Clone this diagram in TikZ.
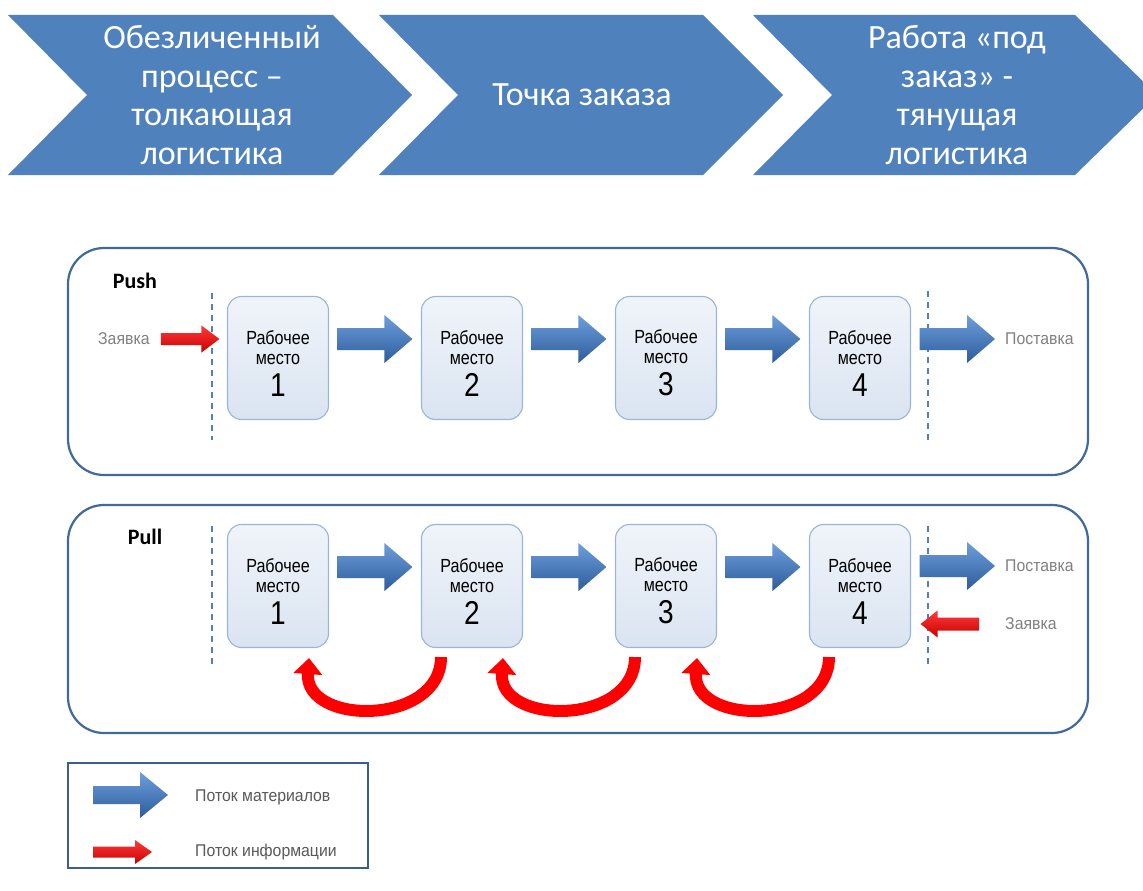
\documentclass[tikz,border=0pt]{standalone}
\usepackage{fontspec}
\setmainfont{Carlito}
\newfontfamily\arialn[FakeStretch=0.85]{Liberation Sans}
\newfontfamily\arialm[FakeStretch=0.93]{Liberation Sans}
\usetikzlibrary{calc,arrows.meta}
\definecolor{chev}{HTML}{4F81BD}
\definecolor{panelc}{HTML}{41699B}
\definecolor{boxedge}{HTML}{9BB5D8}
\definecolor{boxtop}{HTML}{F0F4FA}
\definecolor{boxbot}{HTML}{DAE4F1}
\definecolor{mattop}{HTML}{6E9EDC}
\definecolor{matbot}{HTML}{2E5C9A}
\definecolor{inftop}{HTML}{FF3A3A}
\definecolor{infbot}{HTML}{C80000}
\definecolor{sidegray}{HTML}{808080}
\definecolor{leggray}{HTML}{595959}
\definecolor{legedge}{HTML}{3B5E8C}
\newcommand\blockarrow[6]{%
  \path[#1] let \p1=#2, \p2=#3, \n1={sign(\x2-\x1)} in
    (\x1,\y2+#4) -- (\x2-\n1*#6,\y2+#4) -- (\x2-\n1*#6,\y2+#5) -- (\x2,\y2)
    -- (\x2-\n1*#6,\y2-#5) -- (\x2-\n1*#6,\y2-#4) -- (\x1,\y2-#4) -- cycle;}
\tikzset{
  chevshape/.style={fill=chev, draw=none},
  chevtext/.style={text=white, font=\fontsize{34}{38.5}\selectfont, align=center, inner sep=0pt},
  panel/.style={draw=panelc, line width=2.2pt, rounded corners=36pt, fill=white},
  sepline/.style={draw=chev, line width=1.6pt, dash pattern=on 6pt off 5pt},
  wbox/.style={draw=boxedge, line width=1.1pt, rounded corners=14pt, top color=boxtop,
    bottom color=boxbot, minimum width=101pt, minimum height=123pt, text width=95pt,
    align=center, inner sep=0pt, text=black, font=\arialn\fontsize{19}{20}\selectfont},
  mat/.style={top color=mattop, bottom color=matbot, draw=none},
  info/.style={top color=inftop, bottom color=infbot, draw=none},
  side/.style={text=sidegray, font=\arialm\fontsize{17}{20}\selectfont, inner sep=0pt, anchor=west},
  legtext/.style={text=leggray, font=\arialm\fontsize{17}{20}\selectfont, inner sep=0pt, anchor=west},
  paneltitle/.style={font=\bfseries\fontsize{22}{24}\selectfont, inner sep=0pt},
  infoarc/.style={draw=red, line width=12pt, -{Triangle[width=28pt,length=16pt]}},
}
\newcommand\wtext[1]{\rule{0pt}{24pt}Рабочее\par место\par{\fontsize{33}{32}\selectfont #1\par}}
\begin{document}
\begin{tikzpicture}[x=1pt,y=-1pt]
\clip (0,0) rectangle (1143,891);
\fill[white] (0,0) rectangle (1143,891);
% chevrons
\path[chevshape] (8,15) -- (333,15) -- (412,95) -- (333,175) -- (8,175) -- (87,95) -- cycle;
\path[chevshape] (379,15) -- (703,15) -- (783,95) -- (703,175) -- (379,175) -- (458,95) -- cycle;
\path[chevshape] (753,15) -- (1075,15) -- (1157,95) -- (1075,175) -- (753,175) -- (832,95) -- cycle;
\node[chevtext] (c1) at (212,95) {Обезличенный\\процесс –\\толкающая\\логистика};
\node[chevtext] (c2) at (582,95) {Точка заказа};
\node[chevtext] (c3) at (957,95) {Работа «под\\заказ» -\\тянущая\\логистика};
% panels
\draw[panel] (68,248) rectangle (1088,475);
\draw[panel] (68,505) rectangle (1088,733);
\node[paneltitle] (push) at (135,281) {Push};
\node[paneltitle] (pull) at (145,537) {Pull};
% separators
\draw[sepline] (212,293) -- (212,440);
\draw[sepline] (928,291) -- (928,440);
\draw[sepline] (212,526) -- (212,667);
\draw[sepline] (928,526) -- (928,667);
% push row
\node[wbox] (a1) at (278,358) {\wtext{1}};
\node[wbox] (a2) at (472,358) {\wtext{2}};
\node[wbox] (a3) at (666,358) {\wtext{3}};
\node[wbox] (a4) at (860,358) {\wtext{4}};
\node[side] (zin) at (98,339) {Заявка};
\node[side] (pout) at (1005,339) {Поставка};
\blockarrow{info}{($(zin.east)+(11,0)$)}{($(a1.west)+(-7.5,-19)$)}{6pt}{13.5pt}{18pt}
\blockarrow{mat}{($(a1.east)+(8.5,-19)$)}{($(a2.west)+(-8.5,-19)$)}{11pt}{24pt}{28pt}
\blockarrow{mat}{($(a2.east)+(8.5,-19)$)}{($(a3.west)+(-8.5,-19)$)}{11pt}{24pt}{28pt}
\blockarrow{mat}{($(a3.east)+(8.5,-19)$)}{($(a4.west)+(-8.5,-19)$)}{11pt}{24pt}{28pt}
\blockarrow{mat}{($(a4.east)+(8.5,-19)$)}{($(pout.west)+(-10,0)$)}{11pt}{24pt}{28pt}
% pull row
\node[wbox] (b1) at (278,586) {\wtext{1}};
\node[wbox] (b2) at (472,586) {\wtext{2}};
\node[wbox] (b3) at (666,586) {\wtext{3}};
\node[wbox] (b4) at (860,586) {\wtext{4}};
\node[side] (pout2) at (1005,566) {Поставка};
\node[side] (zin2) at (1005,624) {Заявка};
\blockarrow{mat}{($(b1.east)+(8.5,-19)$)}{($(b2.west)+(-8.5,-19)$)}{11pt}{24pt}{28pt}
\blockarrow{mat}{($(b2.east)+(8.5,-19)$)}{($(b3.west)+(-8.5,-19)$)}{11pt}{24pt}{28pt}
\blockarrow{mat}{($(b3.east)+(8.5,-19)$)}{($(b4.west)+(-8.5,-19)$)}{11pt}{24pt}{28pt}
\blockarrow{mat}{($(b4.east)+(8.5,-19)$)}{($(pout2.west)+(-10,0)$)}{11pt}{24pt}{28pt}
\blockarrow{info}{($(zin2.west)+(-26,0)$)}{($(b4.east)+(9.5,38)$)}{6.5pt}{13.5pt}{17pt}
% curved information arrows
\draw[infoarc] ($(b2.south)+(-31,9)$) .. controls +(0,69) and +(-5,68) .. ($(b1.south)+(31,10)$);
\draw[infoarc] ($(b3.south)+(-31,9)$) .. controls +(0,69) and +(-5,68) .. ($(b2.south)+(31,10)$);
\draw[infoarc] ($(b4.south)+(-31,9)$) .. controls +(0,69) and +(-5,68) .. ($(b3.south)+(31,10)$);
% legend
\draw[legedge, line width=2pt] (68,763) rectangle (368,868);
\node[legtext] (lmat) at (195,797) {Поток материалов};
\node[legtext] (linf) at (195,852) {Поток информации};
\blockarrow{mat}{(93,795)}{($(lmat.west)+(-27,-2)$)}{9pt}{23pt}{28pt}
\blockarrow{info}{(93,852)}{($(linf.west)+(-43,0)$)}{5.5pt}{12pt}{17pt}
\end{tikzpicture}
\end{document}
